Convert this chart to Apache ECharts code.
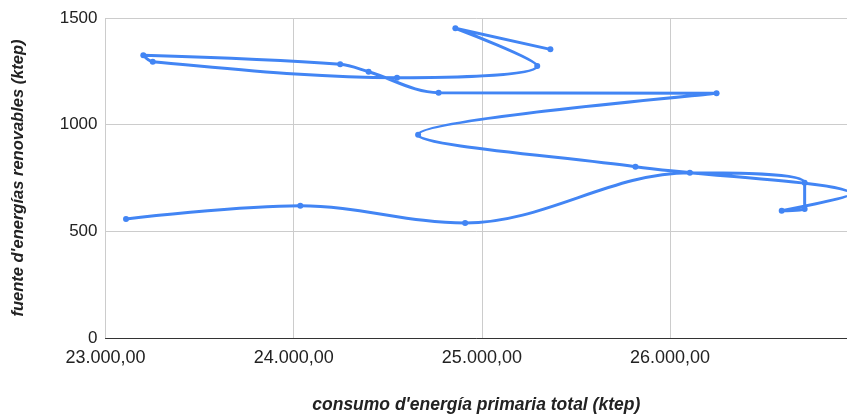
<!DOCTYPE html>
<html>
<head>
<meta charset="utf-8">
<script src="https://cdn.jsdelivr.net/npm/echarts@6/dist/echarts.min.js"></script>
<style>
html,body{margin:0;padding:0;background:#fff;}
#chart{width:847px;height:415px;}
</style>
</head>
<body>
<div id="chart"></div>
<script>
// consumo d'energía primaria total (ktep), in chronological order
const consumo = [23109, 24035, 24911, 26105, 26715, 26715, 26593, 26960, 25816, 24661,
                 26247, 24770, 24398, 24247, 23201, 23251, 24549, 25294, 24859, 25364];
// fuente d'energías renovables (ktep)
const renovables = [558, 620, 539, 775, 728, 605, 597, 675, 803, 953,
                    1147, 1150, 1248, 1283, 1325, 1295, 1220, 1275, 1452, 1353];
const xTitle = "consumo d'energía primaria total (ktep)";
const yTitle = "fuente d'energías renovables (ktep)";

const points = consumo.map((x, i) => [x, renovables[i]]);

function fmt(v) {
  const parts = v.toFixed(2).split('.');
  parts[0] = parts[0].replace(/\B(?=(\d{3})+(?!\d))/g, '.');
  return parts.join(',');
}

const chart = echarts.init(document.getElementById('chart'), null, {renderer: 'canvas'});
chart.setOption({
  animation: false,
  grid: {left: 105.5, right: 0, top: 18, bottom: 77, containLabel: false, outerBoundsMode: 'none'},
  xAxis: {
    type: 'value', min: 23000, max: 26940, interval: 1000,
    name: xTitle, nameLocation: 'middle', nameGap: 58,
    nameTextStyle: {fontFamily: 'Liberation Sans', fontSize: 17.5, fontWeight: 'bold', fontStyle: 'italic', color: '#222'},
    axisLine: {show: true, onZero: false, lineStyle: {color: '#333', width: 1}},
    axisTick: {show: false},
    axisLabel: {formatter: fmt, showMaxLabel: false, fontFamily: 'Liberation Sans', fontSize: 18, color: '#222', margin: 11},
    splitLine: {show: true, lineStyle: {color: '#ccc', width: 1}}
  },
  yAxis: {
    type: 'value', min: 0, max: 1500, interval: 500,
    name: yTitle, nameLocation: 'middle', nameGap: 79,
    nameTextStyle: {fontFamily: 'Liberation Sans', fontSize: 16.5, fontWeight: 'bold', fontStyle: 'italic', color: '#222'},
    axisLine: {show: false},
    axisTick: {show: false},
    axisLabel: {formatter: v => String(v), fontFamily: 'Liberation Sans', fontSize: 17, color: '#222', margin: 8},
    splitLine: {show: true, lineStyle: {color: '#ccc', width: 1}}
  },
  series: [{
    type: 'line',
    data: points,
    smooth: 0.35,
    clip: true,
    symbol: 'circle',
    symbolSize: 6,
    showSymbol: true,
    lineStyle: {color: '#4285F4', width: 3},
    itemStyle: {color: '#4285F4'}
  }]
});
</script>
</body>
</html>
